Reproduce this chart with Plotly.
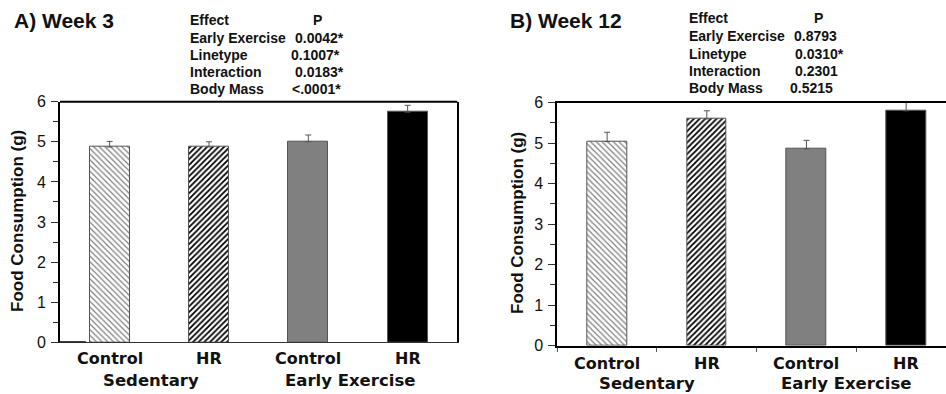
import plotly.graph_objects as go

# Food consumption (g), mean and SEM per group
categories = ["Control", "HR", "Control", "HR"]
groups = ["Sedentary", "Early Exercise"]
week3_mean = [4.87, 4.87, 5.00, 5.74]
week3_sem = [0.14, 0.13, 0.17, 0.17]
week12_mean = [5.04, 5.60, 4.86, 5.80]
week12_sem = [0.23, 0.20, 0.21, 0.22]

# ANCOVA effects and P values for each week
effects = ["Early Exercise", "Linetype", "Interaction", "Body Mass"]
week3_p = ["0.0042*", "0.1007*", "0.0183*", "<.0001*"]
week12_p = ["0.8793", "0.0310*", "0.2301", "0.5215"]

W, H = 946, 394
ARIAL = "Liberation Sans, Arial, sans-serif"
VERDANA = "DejaVu Sans"

bar_fill = [
    dict(color="white", pattern=dict(shape="\\", fgcolor="#808080", bgcolor="white", size=4, solidity=0.3)),
    dict(color="white", pattern=dict(shape="/", fgcolor="#000000", bgcolor="white", size=4, solidity=0.45)),
    dict(color="#808080"),
    dict(color="#000000"),
]


def px_x(x):
    return x / W


def px_y(y):
    return 1 - y / H


fig = go.Figure()

panels = [
    dict(mean=week3_mean, sem=week3_sem, xa="x", ya="y"),
    dict(mean=week12_mean, sem=week12_sem, xa="x2", ya="y2"),
]

for p in panels:
    for i, (m, s) in enumerate(zip(p["mean"], p["sem"])):
        fig.add_trace(go.Bar(
            x=[i], y=[m], width=0.4,
            marker=dict(line=dict(color="#555555", width=1), **bar_fill[i]),
            error_y=dict(type="data", symmetric=False, array=[s], arrayminus=[0],
                         color="#555555", thickness=1, width=3),
            xaxis=p["xa"], yaxis=p["ya"], showlegend=False,
        ))

yaxis_common = dict(
    range=[0, 6], dtick=1, tick0=0, showgrid=False, zeroline=False,
    showline=True, linecolor="black", linewidth=2,
    ticks="outside", ticklen=7, tickcolor="#333333", tickwidth=1,
    minor=dict(dtick=0.5, ticks="outside", ticklen=5, tickcolor="#333333", tickwidth=1),
    tickfont=dict(family=ARIAL, size=16, color="#111111"),
    ticklabelstandoff=2, automargin=False,
)

fig.update_layout(
    template="none",
    width=W, height=H,
    margin=dict(l=0, r=0, t=0, b=0, pad=0, autoexpand=False),
    paper_bgcolor="white", plot_bgcolor="white",
    bargap=0,
    xaxis=dict(domain=[px_x(60), px_x(457.3)], range=[-0.5, 3.5], showgrid=False, zeroline=False,
               showline=True, linecolor="#333333", linewidth=1, ticks="", showticklabels=False,
               anchor="y", automargin=False),
    yaxis=dict(domain=[px_y(342.3), px_y(101.7)], anchor="x", mirror=True, **yaxis_common),
    xaxis2=dict(domain=[px_x(557.3), 1.0], range=[-0.5, 3.4], showgrid=False, zeroline=False,
                showline=True, linecolor="black", linewidth=2, mirror=True,
                tickmode="array", tickvals=[-0.5, 0.5, 1.5, 2.5], showticklabels=False,
                ticks="outside", ticklen=4, tickcolor="#555555", tickwidth=1,
                anchor="y2", automargin=False),
    yaxis2=dict(domain=[px_y(345.7), px_y(102.7)], anchor="x2", mirror=False, **yaxis_common),
)

# Top frame line of panel A and the short baseline stub at its left corner
fig.add_shape(type="line", xref="x domain", yref="y domain", x0=0, x1=1, y0=1, y1=1,
              line=dict(color="black", width=2))
fig.add_shape(type="line", xref="x", yref="y", x0=-0.5, x1=-0.24, y0=0, y1=0,
              line=dict(color="black", width=2))

ann = []


def text(x, y, s, size, family=ARIAL, xanchor="left", xref="paper", xshift=0, angle=0):
    ann.append(dict(x=x, y=y, xref=xref, yref="paper", text=s, showarrow=False,
                    xanchor=xanchor, yanchor="middle", xshift=xshift, textangle=angle,
                    font=dict(family=family, size=size, color="#111111", weight="bold")))


# Panel titles
text(px_x(12), px_y(21), "A) Week 3", 21)
text(px_x(508), px_y(20), "B) Week 12", 21)

# Effects tables
rows_a = [20.5, 38, 55.5, 72, 88.8]
rows_b = [18, 36, 54, 70.5, 88]
text(px_x(188), px_y(rows_a[0]), "Effect", 14)
text(px_x(317), px_y(rows_a[0]), "P", 14, xanchor="center")
for e, pv, yy, xl in zip(effects, week3_p, rows_a[1:], [293, 289, 293, 290]):
    text(px_x(188), px_y(yy), e, 14)
    text(px_x(xl), px_y(yy), pv, 14)
text(px_x(687), px_y(rows_b[0]), "Effect", 14)
text(px_x(818), px_y(rows_b[0]), "P", 14, xanchor="center")
for e, pv, yy, xl in zip(effects, week12_p, rows_b[1:], [791.5, 793, 793, 788]):
    text(px_x(687), px_y(yy), e, 14)
    text(px_x(xl), px_y(yy), pv, 14)

# Y axis titles
text(px_x(18), px_y(221), "Food Consumption (g)", 17, xanchor="center", angle=-90)
text(px_x(517), px_y(223), "Food Consumption (g)", 17, xanchor="center", angle=-90)

# Category and group labels under each panel
for xr, ycat, ygrp, gshift in [("x", 358, 380, -8), ("x2", 363, 383, -10)]:
    for i, c in enumerate(categories):
        text(i, px_y(ycat), c, 16, family=VERDANA, xanchor="center", xref=xr)
    for g, gx in zip(groups, [0.5, 2.5]):
        text(gx, px_y(ygrp), g, 16.5, family=VERDANA, xanchor="center", xref=xr, xshift=gshift)

fig.update_layout(annotations=ann)

fig.write_html("out.html")
